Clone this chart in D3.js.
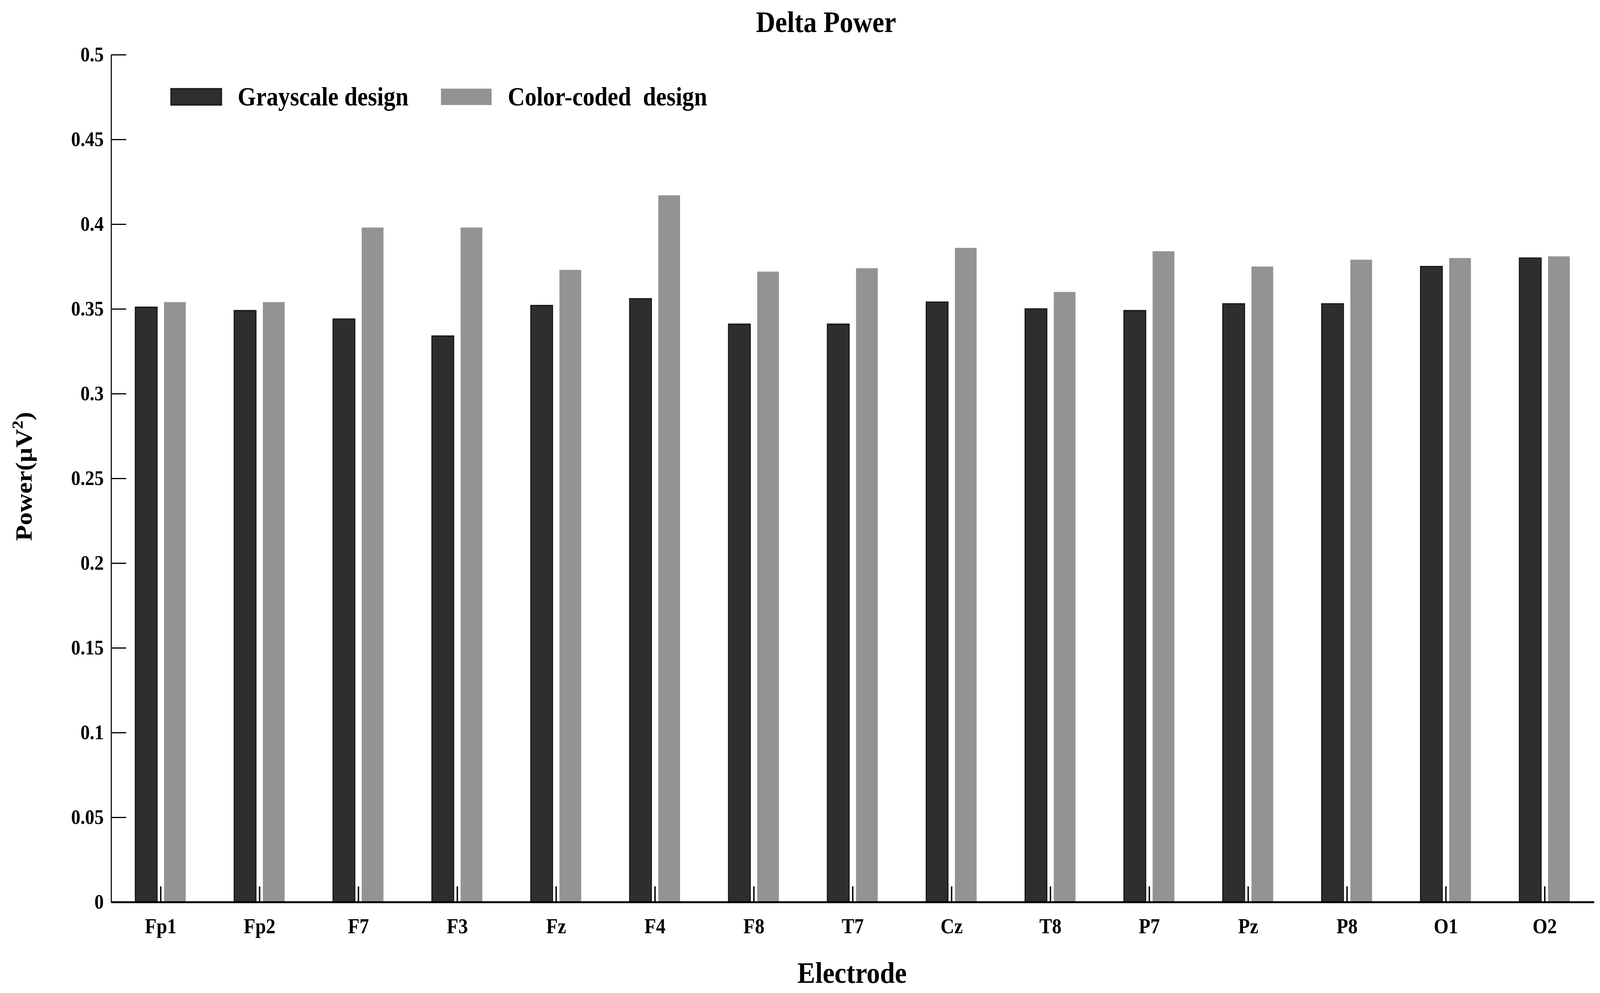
<!DOCTYPE html>
<html lang="en">

<head>
  <title>Delta Power</title>
  <script src="https://d3js.org/d3.v7.min.js"></script>
  <style>
    html, body {
      margin: 0;
      padding: 0;
      overflow: hidden;
      background: #fff;
    }
    svg {
      display: block;
    }
    text {
      font-family: "Liberation Serif", "Times New Roman", serif;
      font-weight: bold;
    }
  </style>
</head>

<body>
  <script>
    // Data
    const electrodes = ["Fp1", "Fp2", "F7", "F3", "Fz", "F4", "F8", "T7", "Cz", "T8", "P7", "Pz", "P8", "O1", "O2"];
    const grayscale = [0.351, 0.349, 0.344, 0.334, 0.352, 0.356, 0.341, 0.341, 0.354, 0.350, 0.349, 0.353, 0.353, 0.375, 0.380];
    const colorCoded = [0.354, 0.354, 0.398, 0.398, 0.373, 0.417, 0.372, 0.374, 0.386, 0.360, 0.384, 0.375, 0.379, 0.380, 0.381];
    const seriesNames = ["Grayscale design", "Color-coded  design"];
    const seriesColors = ["#2e2e2e", "#939393"];
    const yTicks = [0, 0.05, 0.1, 0.15, 0.2, 0.25, 0.3, 0.35, 0.4, 0.45, 0.5];

    const W = 4550, H = 2543;
    // viewBox so the drawing fills the window whatever its css size is
    const svg = d3.select("body")
      .append("svg")
      .attr("viewBox", [0, 0, W, H])
      .attr("preserveAspectRatio", "none")
      .style("width", "100vw")
      .style("height", "100vh");

    // Scales (MATLAB style: groups at 1..15, xlim 0.5..15.5)
    const x = d3.scaleLinear().domain([0.5, 15.5]).range([316, 4533]);
    const y = d3.scaleLinear().domain([0, 0.5]).range([2310, 140]);

    const unit = x(2) - x(1);
    const barW = 0.22 * unit;
    const offsets = [-0.145, 0.145];

    // Bars
    [grayscale, colorCoded].forEach(function(vals, s) {
      svg.append("g")
        .selectAll("rect")
        .data(vals)
        .enter()
        .append("rect")
        .attr("x", function(d, i) { return x(i + 1 + offsets[s]) - barW / 2; })
        .attr("y", function(d) { return y(d); })
        .attr("width", barW)
        .attr("height", function(d) { return y(0) - y(d); })
        .attr("fill", seriesColors[s])
        .attr("stroke", s === 0 ? "#151515" : "none")
        .attr("stroke-width", 3);
    });

    // Y axis
    const yAxis = svg.append("g")
      .attr("transform", "translate(" + x(0.5) + ",0)")
      .call(d3.axisLeft(y)
        .tickValues(yTicks)
        .tickFormat(function(d) { return String(+d.toFixed(2)); })
        .tickSize(-43)
        .tickSizeOuter(0)
        .tickPadding(21));
    yAxis.select(".domain").attr("stroke", "#000").attr("stroke-width", 3);
    yAxis.selectAll(".tick line").attr("stroke", "#000").attr("stroke-width", 3);
    yAxis.selectAll(".tick text")
      .attr("font-size", 53)
      .attr("font-family", "Liberation Serif, serif")
      .attr("font-weight", "bold")
      .attr("fill", "#000");

    // X axis
    const xAxis = svg.append("g")
      .attr("transform", "translate(0," + y(0) + ")")
      .call(d3.axisBottom(x)
        .tickValues(d3.range(1, electrodes.length + 1))
        .tickFormat(function(d) { return electrodes[d - 1]; })
        .tickSize(-40)
        .tickSizeOuter(0)
        .tickPadding(42));
    xAxis.select(".domain").attr("stroke", "#000").attr("stroke-width", 5);
    xAxis.selectAll(".tick line").attr("stroke", "#000").attr("stroke-width", 4);
    xAxis.selectAll(".tick text")
      .attr("font-size", 54)
      .attr("font-family", "Liberation Serif, serif")
      .attr("font-weight", "bold")
      .attr("fill", "#000");

    // Title
    svg.append("text")
      .attr("x", 2349)
      .attr("y", 82)
      .attr("text-anchor", "middle")
      .attr("font-size", 76)
      .text("Delta Power");

    // Axis titles
    svg.append("text")
      .attr("x", 2423)
      .attr("y", 2517)
      .attr("text-anchor", "middle")
      .attr("font-size", 76)
      .text("Electrode");

    const yl = svg.append("text")
      .attr("transform", "translate(90,1220) rotate(-90)")
      .attr("text-anchor", "middle")
      .attr("font-size", 66);
    yl.append("tspan").text("Power(\u03BCV");
    yl.append("tspan").attr("font-size", 44).attr("dy", -26).text("2");
    yl.append("tspan").attr("dy", 26).text(")");

    // Legend
    const legendX = [486, 1254];
    const legend = svg.append("g");
    seriesNames.forEach(function(name, s) {
      legend.append("rect")
        .attr("x", legendX[s])
        .attr("y", 227)
        .attr("width", 144)
        .attr("height", 42)
        .attr("fill", seriesColors[s])
        .attr("stroke", s === 0 ? "#151515" : "none")
        .attr("stroke-width", 3);
      legend.append("text")
        .attr("x", legendX[s] + 190)
        .attr("y", 270)
        .attr("font-size", 67)
        .attr("xml:space", "preserve")
        .style("white-space", "pre")
        .text(name);
    });
  </script>
</body>

</html>
